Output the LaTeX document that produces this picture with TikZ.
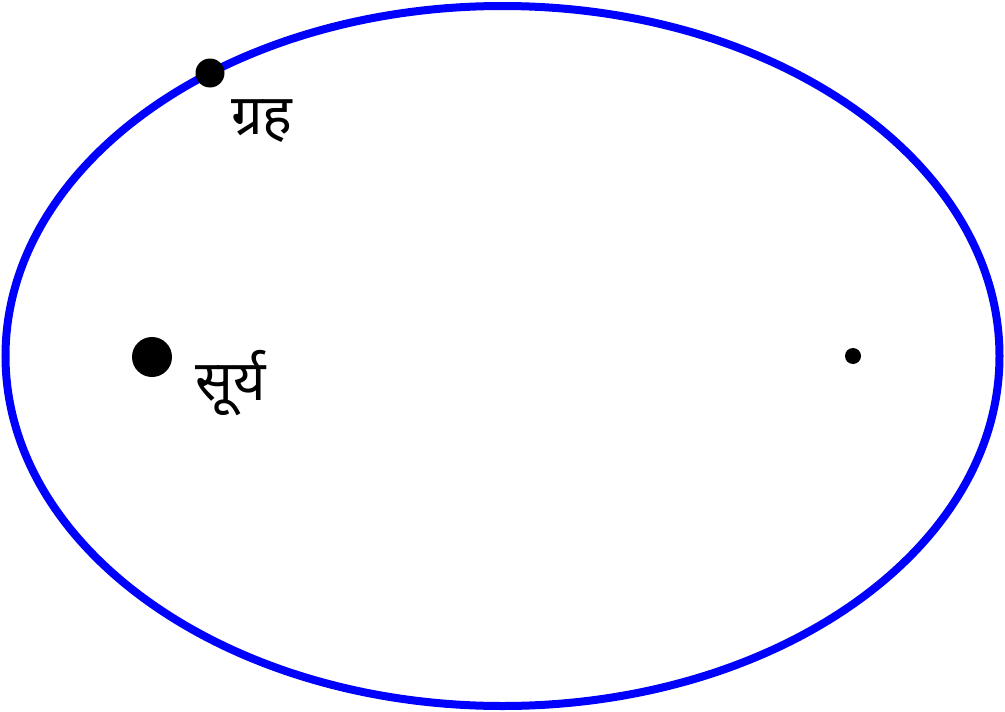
\documentclass[tikz,border=0pt]{standalone}
\usepackage{fontspec}
\newfontfamily\devfont[Script=Devanagari]{Noto Sans}
\tikzset{
  body/.style={circle,fill=black,inner sep=0pt},
  lbl/.style={anchor=base west,inner sep=0pt,font=\devfont\fontsize{56}{62}\selectfont}
}
\begin{document}
\begin{tikzpicture}[x=1pt,y=-1pt]
            \useasboundingbox (0,0) rectangle (1005,712);
            \draw[blue,line width=8pt] (502.5,356) ellipse [x radius=497,y radius=350];

            \node[body,minimum size=29pt] (planet) at (210,73) {};
            \node[body,minimum size=40pt] (sun) at (152,357) {};
            \node[body,minimum size=16pt] (focus) at (853,356) {};

            \node[lbl] (planetlbl) at (231,134) {ग्रह};
            \node[lbl] (sunlbl) at (195,400) {सूर्य};
        \end{tikzpicture}
\end{document}
